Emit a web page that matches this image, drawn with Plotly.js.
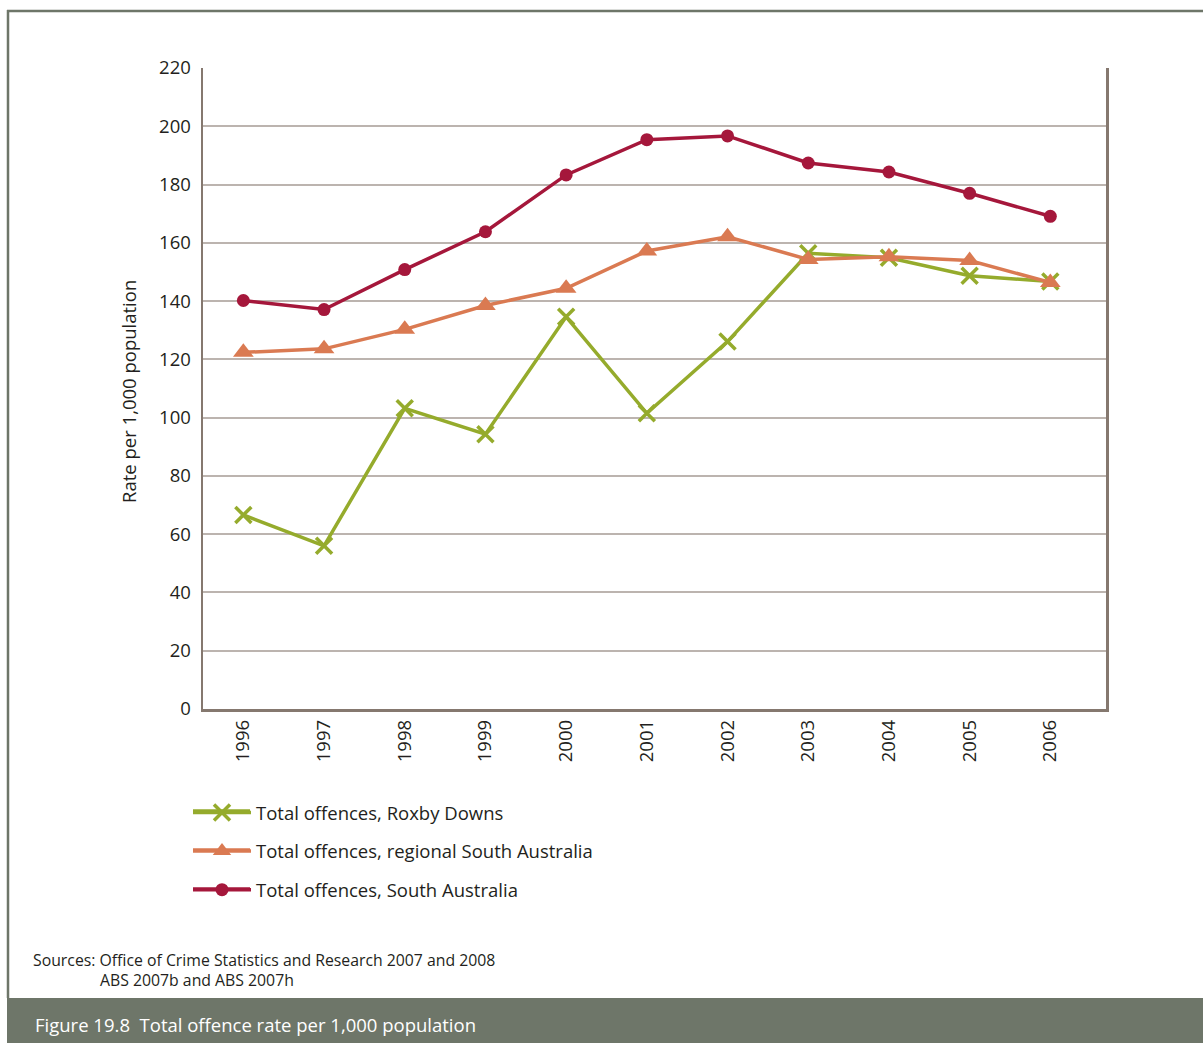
<!DOCTYPE html>
<html>
<head>
<meta charset="utf-8">
<script src="https://cdn.plot.ly/plotly-3.0.1.min.js"></script>
<style>
  html, body { margin: 0; padding: 0; background: #ffffff; }
  #chart { width: 1203px; height: 1043px; }
</style>
</head>
<body>
<div id="chart"></div>
<script>
// Offence rates per 1,000 population, 1996–2006
const years = [1996, 1997, 1998, 1999, 2000, 2001, 2002, 2003, 2004, 2005, 2006];
const yearLabels = years.map(String);
const roxbyDowns = [66.6, 56.0, 103.2, 94.3, 134.6, 101.5, 126.1, 156.4, 154.9, 148.7, 146.7];
const regionalSA = [122.4, 123.6, 130.3, 138.5, 144.4, 157.2, 162.1, 154.3, 155.2, 153.9, 146.4];
const southAustralia = [140.2, 137.1, 150.8, 163.8, 183.3, 195.4, 196.7, 187.4, 184.3, 177.0, 169.1];

const seriesNames = [
  'Total offences, Roxby Downs',
  'Total offences, regional South Australia',
  'Total offences, South Australia'
];

const GREEN = '#95ab2c';
const ORANGE = '#da7a52';
const RED = '#a5173b';
const FRAME = '#6e7669';
const AXIS = '#85786f';
const GRID = '#bcb4af';
const TEXT = '#231f20';
const FONT = '"Open Sans", "Noto Sans", sans-serif';

// plot area in page pixels
const W = 1203, H = 1043;
const L = 203, R = 1106, T = 68, B = 709;
const px = x => (x - L) / (R - L);
const py = y => (B - y) / (B - T);

// legend layout (page pixels)
const LEGEND_LEFT = 188;
const LEGEND_ROWS = [811, 850, 889];
const LEGEND_LINE = [193, 250];
const seriesColors = [GREEN, ORANGE, RED];

const traces = [
  {
    x: years, y: roxbyDowns, name: seriesNames[0], type: 'scatter', mode: 'lines+markers',
    line: { color: GREEN, width: 3.5 },
    marker: { symbol: 'x-thin', size: 16, line: { color: GREEN, width: 3.5 } },
    legendgroup: 'a'
  },
  {
    x: years, y: regionalSA, name: seriesNames[1], type: 'scatter', mode: 'lines+markers',
    line: { color: ORANGE, width: 3.5 },
    marker: { symbol: 'triangle-up', size: 18, color: ORANGE },
    legendgroup: 'b'
  },
  {
    x: years, y: southAustralia, name: seriesNames[2], type: 'scatter', mode: 'lines+markers',
    line: { color: RED, width: 3.5 },
    marker: { symbol: 'circle', size: 13, color: RED },
    legendgroup: 'c'
  }
];

// full-length legend key lines, drawn beneath the legend markers
const legendKeyShapes = LEGEND_ROWS.map((y, i) => ({
  type: 'line', xref: 'paper', yref: 'paper',
  x0: px(LEGEND_LINE[0]), x1: px(LEGEND_LINE[1]), y0: py(y), y1: py(y),
  line: { color: seriesColors[i], width: 3.5 }
}));

const layout = {
  width: W, height: H,
  margin: { l: L, r: W - R, t: T, b: H - B, pad: 0 },
  paper_bgcolor: '#ffffff',
  plot_bgcolor: '#ffffff',
  font: { family: FONT, color: TEXT, size: 18 },
  showlegend: true,
  legend: {
    x: px(LEGEND_LEFT), xanchor: 'left',
    y: py(794), yanchor: 'top',
    font: { family: FONT, size: 18.5, color: TEXT },
    itemwidth: 58,
    tracegroupgap: 11.5,
    traceorder: 'grouped',
    bgcolor: 'rgba(0,0,0,0)',
    borderwidth: 0
  },
  xaxis: {
    range: [1995.5, 2006.69],
    tickvals: years, ticktext: yearLabels,
    tickangle: -90,
    ticks: 'outside', ticklen: 1, tickcolor: 'rgba(0,0,0,0)',
    tickfont: { family: FONT, size: 18.5, color: TEXT },
    showgrid: false, zeroline: false,
    showline: true, linecolor: AXIS, linewidth: 2.5,
    fixedrange: true
  },
  yaxis: {
    range: [0, 220], dtick: 20,
    ticks: 'outside', ticklen: 6, tickcolor: 'rgba(0,0,0,0)',
    tickfont: { family: FONT, size: 18.5, color: TEXT },
    showgrid: true, gridcolor: GRID, gridwidth: 2,
    zeroline: false,
    showline: true, linecolor: AXIS, linewidth: 2.5, mirror: true,
    fixedrange: true
  },
  shapes: [
    // outer frame (left and top edges)
    { type: 'line', xref: 'paper', yref: 'paper', x0: px(8), x1: px(8), y0: py(10), y1: py(998),
      line: { color: FRAME, width: 2.5 } },
    { type: 'line', xref: 'paper', yref: 'paper', x0: px(7), x1: px(W), y0: py(11), y1: py(11),
      line: { color: FRAME, width: 2.5 } },
    // caption band
    { type: 'rect', xref: 'paper', yref: 'paper', x0: px(7), x1: px(W + 2), y0: py(998), y1: py(H + 2),
      fillcolor: FRAME, line: { width: 0 }, layer: 'below' },
    ...legendKeyShapes
  ],
  annotations: [
    { text: 'Rate per 1,000 population', textangle: -90,
      xref: 'paper', yref: 'paper', x: px(128), y: py(392), xanchor: 'center', yanchor: 'middle',
      showarrow: false, font: { family: FONT, size: 18.5, color: TEXT } },
    { text: 'Sources: Office of Crime Statistics and Research 2007 and 2008',
      xref: 'paper', yref: 'paper', x: px(31), y: py(960), xanchor: 'left', yanchor: 'middle',
      showarrow: false, font: { family: FONT, size: 15.8, color: TEXT } },
    { text: 'ABS 2007b and ABS 2007h',
      xref: 'paper', yref: 'paper', x: px(98), y: py(980), xanchor: 'left', yanchor: 'middle',
      showarrow: false, font: { family: FONT, size: 15.8, color: TEXT } },
    { text: 'Figure 19.8\u00a0\u00a0Total offence rate per 1,000 population',
      xref: 'paper', yref: 'paper', x: px(33), y: py(1024), xanchor: 'left', yanchor: 'middle',
      showarrow: false, font: { family: '"Liberation Sans Narrow", "Open Sans", sans-serif', size: 18.5, color: '#ffffff' } }
  ]
};

Plotly.newPlot('chart', traces, layout, { displayModeBar: false, staticPlot: true });
</script>
</body>
</html>
